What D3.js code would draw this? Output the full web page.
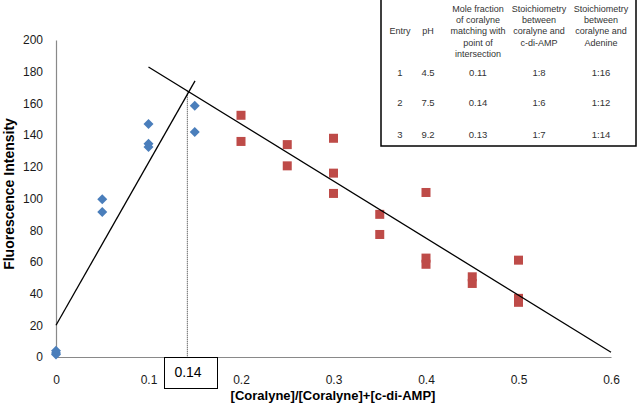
<!DOCTYPE html>
<html><head><meta charset="utf-8">
<script src="https://cdn.jsdelivr.net/npm/d3@7"></script>
<style>
html,body{margin:0;padding:0;background:#fff;}
svg{display:block;font-family:"Liberation Sans",Arial,sans-serif;}
</style></head>
<body>
<svg id="chart" width="637" height="405"></svg>
<script>
// ---- data ----
const blueX = [0, 0, 0, 0.05, 0.05, 0.1, 0.1, 0.1, 0.15, 0.15];
const blueY = [1.5, 2.5, 4, 99.5, 91.5, 147, 134.5, 132.5, 158.5, 142];
const redX = [0.2, 0.2, 0.25, 0.25, 0.3, 0.3, 0.3, 0.35, 0.35, 0.4, 0.4, 0.4, 0.45, 0.45, 0.5, 0.5, 0.5];
const redY = [152.5, 136, 134, 120.6, 138, 116, 103.2, 90, 77.3, 103.8, 62.4, 58.5, 50.6, 46.4, 61.1, 37, 34.5];
const fitLeft = [[0, 20], [0.1503, 174.2]];
const fitRight = [[0.1, 183], [0.6, 3]];
const intersection = [0.142, 168];
const intersectionLabel = "0.14";
const xTicks = [0, 0.1, 0.2, 0.3, 0.4, 0.5, 0.6];
const yTicks = [0, 20, 40, 60, 80, 100, 120, 140, 160, 180, 200];
const xTitle = "[Coralyne]/[Coralyne]+[c-di-AMP]";
const yTitle = "Fluorescence Intensity";
const tableHeaders = [
  ["Entry"], ["pH"],
  ["Mole fraction", "of coralyne", "matching with", "point of", "intersection"],
  ["Stoichiometry", "between", "coralyne and", "c-di-AMP"],
  ["Stoichiometry", "between", "coralyne and", "Adenine"]
];
const tableRows = [
  ["1", "4.5", "0.11", "1:8", "1:16"],
  ["2", "7.5", "0.14", "1:6", "1:12"],
  ["3", "9.2", "0.13", "1:7", "1:14"]
];

// ---- chart ----
const svg = d3.select("#chart");
const x = d3.scaleLinear().domain([0, 0.6]).range([56, 611]);
const y = d3.scaleLinear().domain([0, 200]).range([357, 40]);

const axisColor = "#898989";
const gx = svg.append("g").attr("transform", `translate(0,${y(0)})`)
  .call(d3.axisBottom(x).tickValues(xTicks).tickSize(0).tickPadding(18).tickFormat(d => d3.format("")(d)));
const gy = svg.append("g").attr("transform", `translate(${x(0)},0)`)
  .call(d3.axisLeft(y).tickValues(yTicks).tickSize(0).tickPadding(13));
[gx, gy].forEach(g => {
  g.select(".domain").attr("stroke", axisColor).attr("stroke-width", 1.2);
  g.selectAll("text").attr("font-size", 12).attr("fill", "#1a1a1a")
    .attr("font-family", "'Liberation Sans',Arial,sans-serif");
});

// axis titles
svg.append("text").attr("x", 333).attr("y", 400).attr("text-anchor", "middle")
  .attr("font-size", 13).attr("font-weight", "bold").attr("fill", "#000").text(xTitle);
svg.append("text").attr("transform", "translate(14,194) rotate(-90)").attr("text-anchor", "middle")
  .attr("font-size", 14).attr("font-weight", "bold").attr("fill", "#000").text(yTitle);

// dotted vertical line
svg.append("line").attr("x1", x(intersection[0])).attr("x2", x(intersection[0]))
  .attr("y1", y(intersection[1])).attr("y2", y(0))
  .attr("stroke", "#333").attr("stroke-width", 1).attr("stroke-dasharray", "1,1");

// markers
const blue = blueX.map((v, i) => [v, blueY[i]]);
const red = redX.map((v, i) => [v, redY[i]]);
svg.append("g").selectAll("path").data(blue).join("path")
  .attr("transform", d => `translate(${x(d[0])},${y(d[1])})`)
  .attr("d", "M0,-5L5,0L0,5L-5,0Z").attr("fill", "#4a7ebb");
svg.append("g").selectAll("rect").data(red).join("rect")
  .attr("x", d => x(d[0]) - 4.5).attr("y", d => y(d[1]) - 4.5)
  .attr("width", 9).attr("height", 9).attr("fill", "#be4b48");

// fit lines
const line = d3.line().x(d => x(d[0])).y(d => y(d[1]));
[fitLeft, fitRight].forEach(seg => {
  svg.append("path").attr("d", line(seg)).attr("stroke", "#000").attr("stroke-width", 1.3).attr("fill", "none");
});

// intersection label box
svg.append("rect").attr("x", 164.5).attr("y", 357.5).attr("width", 53).attr("height", 31)
  .attr("fill", "#fff").attr("stroke", "#000").attr("stroke-width", 1);
svg.append("text").attr("x", 188).attr("y", 377).attr("text-anchor", "middle")
  .attr("font-size", 14).attr("fill", "#000").text(intersectionLabel);

// table
svg.append("rect").attr("x", 381).attr("y", -2).attr("width", 255).attr("height", 148)
  .attr("fill", "#fff").attr("stroke", "#000").attr("stroke-width", 1.5);
const colX = [400, 428, 478, 539, 601];
const tg = svg.append("g").attr("font-size", 9).attr("fill", "#333").attr("text-anchor", "middle");
tableHeaders.forEach((lines, c) => {
  const start = lines.length === 1 ? 31.1 : 8.5;
  lines.forEach((t, k) => {
    tg.append("text").attr("x", colX[c]).attr("y", start + k * 11.3 + 3.2).text(t);
  });
});
const rowY = [73, 103, 135];
tableRows.forEach((row, r) => {
  row.forEach((t, c) => {
    tg.append("text").attr("x", colX[c]).attr("y", rowY[r] + 3.4).attr("font-size", 9.5).text(t);
  });
});
</script>
</body></html>
